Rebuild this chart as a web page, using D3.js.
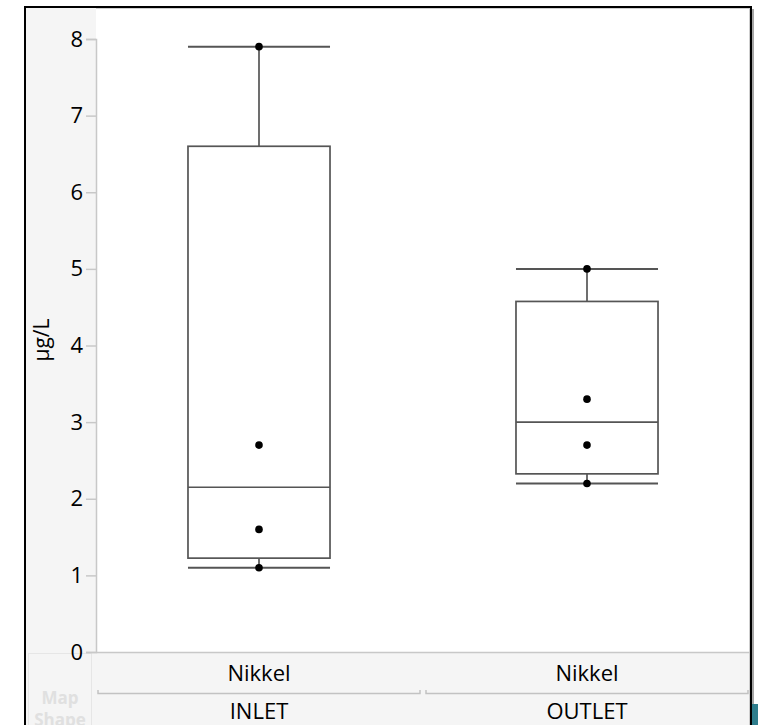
<!DOCTYPE html>
<html><head><meta charset="utf-8">
<script src="https://cdn.jsdelivr.net/npm/d3@7"></script>
<style>
body{margin:0;background:#fff;}
svg{display:block;font-family:"Segoe UI","Open Sans","Noto Sans",sans-serif;}
</style></head>
<body><svg id="c" width="758" height="725"></svg>
<script>
const groups = ["INLET", "OUTLET"];
const analyte = ["Nikkel", "Nikkel"];
const inletValues = [1.1, 1.6, 2.7, 7.9];
const outletValues = [2.2, 2.7, 3.3, 5.0];
const yTicks = [0, 1, 2, 3, 4, 5, 6, 7, 8];
const yLabel = "µg/L";

const series = [inletValues, outletValues];

// JMP-style quantile: position (n+1)p
function q(sorted, p) {
  const n = sorted.length, pos = (n + 1) * p;
  const lo = Math.floor(pos), frac = pos - lo;
  if (lo < 1) return sorted[0];
  if (lo >= n) return sorted[n - 1];
  return sorted[lo - 1] + frac * (sorted[lo] - sorted[lo - 1]);
}
const stats = series.map(v => {
  const s = v.slice().sort(d3.ascending);
  return {min: s[0], q1: q(s, 0.25), med: q(s, 0.5), q3: q(s, 0.75), max: s[s.length - 1], pts: s};
});

const svg = d3.select("#c");
const L = 96, R = 751, T = 9, B = 652;
const FONT = "'Segoe UI','Open Sans','Noto Sans',sans-serif";

// frame & backgrounds
svg.append("rect").attr("x", 25).attr("y", 7).attr("width", 726).attr("height", 730).attr("fill", "#f5f5f5");
svg.append("rect").attr("x", L).attr("y", T).attr("width", R - L - 1).attr("height", B - T).attr("fill", "#fff");
svg.append("line").attr("x1", L).attr("x2", R - 1).attr("y1", T - 0.5).attr("y2", T - 0.5).attr("stroke", "#cfcfcf");
svg.append("line").attr("x1", R - 1.5).attr("x2", R - 1.5).attr("y1", T).attr("y2", 725).attr("stroke", "#cfcfcf");

// Map Shape box
svg.append("rect").attr("x", 28.5).attr("y", 653.5).attr("width", 63).attr("height", 80).attr("fill", "#f5f5f5").attr("stroke", "#e6e6e6");
svg.append("text").attr("x", 60).attr("y", 704).attr("text-anchor", "middle").attr("font-size", 17).attr("font-weight", "bold").attr("fill", "#e0e0e0").text("Map");
svg.append("text").attr("x", 60).attr("y", 726).attr("text-anchor", "middle").attr("font-size", 17).attr("font-weight", "bold").attr("fill", "#e0e0e0").text("Shape");

const y = d3.scaleLinear().domain([0, 8]).range([B, 39]);
const x = d3.scaleBand().domain(groups).range([L - 1, R]).paddingInner(0).paddingOuter(0);

// y axis
const ya = svg.append("g").attr("transform", `translate(${L},0)`)
  .call(d3.axisLeft(y).tickValues(yTicks).tickSize(10).tickPadding(3).tickFormat(d3.format("d")));
ya.select(".domain").attr("stroke", "#c8c8c8").attr("stroke-width", 1.5);
ya.selectAll(".tick line").attr("stroke", "#c8c8c8").attr("stroke-width", 1.5);
ya.selectAll(".tick text").attr("font-size", 22).attr("fill", "#000").attr("font-family", FONT);

svg.append("text").attr("transform", "translate(49,340) rotate(-90)").attr("text-anchor", "middle")
  .attr("font-size", 21).attr("fill", "#000").text(yLabel);

// x axis area
svg.append("line").attr("x1", L).attr("x2", R - 1).attr("y1", B + 0.5).attr("y2", B + 0.5).attr("stroke", "#c8c8c8").attr("stroke-width", 1.5);
groups.forEach((g, i) => {
  const x0 = x(g), x1 = x(g) + x.bandwidth();
  const a = x0 + 3, b = x1 - 3;
  svg.append("path").attr("d", `M${a},${690}V${693.5}H${b}V${690}`).attr("fill", "none").attr("stroke", "#c2c2c2").attr("stroke-width", 1.5);
  svg.append("text").attr("x", x0 + x.bandwidth() / 2).attr("y", 681).attr("text-anchor", "middle").attr("font-size", 22).attr("fill", "#000").text(analyte[i]);
  svg.append("text").attr("x", x0 + x.bandwidth() / 2).attr("y", 719).attr("text-anchor", "middle").attr("font-size", 22).attr("fill", "#000").text(g);
});

// boxes
const bw = x.bandwidth() * 0.433;
const stroke = "#555";
stats.forEach((s, i) => {
  const cx = x(groups[i]) + x.bandwidth() / 2;
  const g = svg.append("g");
  g.append("line").attr("x1", cx).attr("x2", cx).attr("y1", y(s.max)).attr("y2", y(s.q3)).attr("stroke", stroke).attr("stroke-width", 1.7);
  g.append("line").attr("x1", cx).attr("x2", cx).attr("y1", y(s.q1)).attr("y2", y(s.min)).attr("stroke", stroke).attr("stroke-width", 1.7);
  g.append("line").attr("x1", cx - bw / 2).attr("x2", cx + bw / 2).attr("y1", y(s.max)).attr("y2", y(s.max)).attr("stroke", stroke).attr("stroke-width", 2);
  g.append("line").attr("x1", cx - bw / 2).attr("x2", cx + bw / 2).attr("y1", y(s.min)).attr("y2", y(s.min)).attr("stroke", stroke).attr("stroke-width", 2);
  g.append("rect").attr("x", cx - bw / 2).attr("y", y(s.q3)).attr("width", bw).attr("height", y(s.q1) - y(s.q3))
    .attr("fill", "none").attr("stroke", stroke).attr("stroke-width", 1.7);
  g.append("line").attr("x1", cx - bw / 2).attr("x2", cx + bw / 2).attr("y1", y(s.med)).attr("y2", y(s.med)).attr("stroke", stroke).attr("stroke-width", 1.7);
  g.selectAll("circle").data(s.pts).join("circle").attr("cx", cx).attr("cy", d => y(d)).attr("r", 3.8).attr("fill", "#000");
});

// outer frame
svg.append("path").attr("d", "M25,730V7H751V730").attr("fill", "none").attr("stroke", "#000").attr("stroke-width", 2);
svg.append("line").attr("x1", 753).attr("x2", 753).attr("y1", 9).attr("y2", 725).attr("stroke", "#888").attr("stroke-width", 1.5);
svg.append("rect").attr("x", 752).attr("y", 704).attr("width", 6).attr("height", 21).attr("fill", "#2e7d8c");
</script></body></html>
